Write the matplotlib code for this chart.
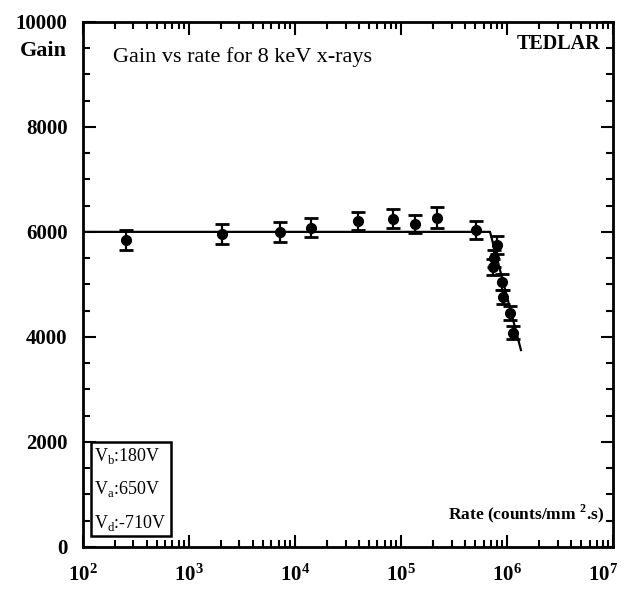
import matplotlib
matplotlib.use('Agg')
import matplotlib.pyplot as plt
import matplotlib.transforms as mtransforms
from matplotlib.ticker import MultipleLocator, LogLocator, FixedLocator, NullFormatter

# measured points (rate in counts/mm^2.s, gain)
rate = [255, 2050, 7200, 14200, 39000, 84000, 135000, 219000, 510000,
        805000, 760000, 738000, 897000, 916000, 1070000, 1140000]
gain = [5850, 5960, 6000, 6080, 6210, 6250, 6150, 6270, 6040,
        5750, 5500, 5330, 5050, 4760, 4460, 4080]
gain_err = [190, 190, 190, 180, 170, 180, 170, 200, 170,
            180, 160, 160, 150, 140, 130, 120]

# fitted curve
fit_rate = [100, 690000, 1350000]
fit_gain = [6000, 6000, 3750]

yticks = [0, 2000, 4000, 6000, 8000, 10000]
xticks = [1e2, 1e3, 1e4, 1e5, 1e6, 1e7]
xlabels = ['$\\mathbf{10^2}$', '$\\mathbf{10^3}$', '$\\mathbf{10^4}$',
           '$\\mathbf{10^5}$', '$\\mathbf{10^6}$', '$\\mathbf{10^7}$']
voltages = ['V$_\\mathrm{b}$:180V', 'V$_\\mathrm{a}$:650V', 'V$_\\mathrm{d}$:-710V']

plt.rcParams['font.family'] = 'Liberation Serif'
plt.rcParams['mathtext.fontset'] = 'custom'
plt.rcParams['mathtext.rm'] = 'Liberation Serif'
plt.rcParams['mathtext.bf'] = 'Liberation Serif:bold'

fig = plt.figure(figsize=(6.27, 5.90), dpi=100)
ax = fig.add_axes([0.132, 0.073, 0.846, 0.890])

ax.plot(fit_rate, fit_gain, color='black', lw=1.6)
ax.errorbar(rate, gain, yerr=gain_err, fmt='o', color='black', ms=7,
            elinewidth=1.6, capsize=5, capthick=2)

ax.set_xscale('log')
ax.set_xlim(1e2, 1e7)
ax.set_ylim(0, 10000)

ax.xaxis.set_major_locator(FixedLocator(xticks))
ax.set_xticklabels(xlabels, fontsize=15)
ax.xaxis.set_minor_locator(LogLocator(base=10, subs=range(2, 10), numticks=20))
ax.xaxis.set_minor_formatter(NullFormatter())
ax.set_yticks(yticks)
ax.set_yticklabels([str(v) for v in yticks], fontsize=15, fontweight='bold')
ax.yaxis.set_minor_locator(MultipleLocator(500))

ax.tick_params(which='both', direction='in', top=True, right=True, width=1.5)
ax.tick_params(which='major', length=9)
ax.tick_params(axis='y', which='major', pad=11)
ax.tick_params(axis='x', which='major', pad=13)
ax.tick_params(which='minor', length=5)
for s in ax.spines.values():
    s.set_linewidth(2)

# keep the last x label inside the figure
last = ax.get_xticklabels()[-1]
last.set_transform(last.get_transform() + mtransforms.ScaledTranslation(-0.1, 0, fig.dpi_scale_trans))

fig.text(0.032, 0.905, 'Gain', fontsize=16, fontweight='bold')
ax.text(0.057, 0.932, 'Gain vs rate for 8 keV x-rays', transform=ax.transAxes,
        fontsize=16, va='center')
ax.text(0.975, 0.957, 'TEDLAR', transform=ax.transAxes, fontsize=14.5,
        fontweight='bold', ha='right', va='center')
ax.text(0.982, 0.063, 'Rate (counts/mm $^{\\mathbf{2}}$.s)', transform=ax.transAxes,
        fontsize=12.5, fontweight='bold', ha='right', va='center')

ax.text(0.022, 0.11, '\n'.join(voltages), transform=ax.transAxes,
        fontsize=13, va='center', ha='left', linespacing=1.9,
        bbox=dict(boxstyle='square,pad=0.2', fc='white', ec='black', lw=1.8))

plt.savefig('out.png', dpi=100)
